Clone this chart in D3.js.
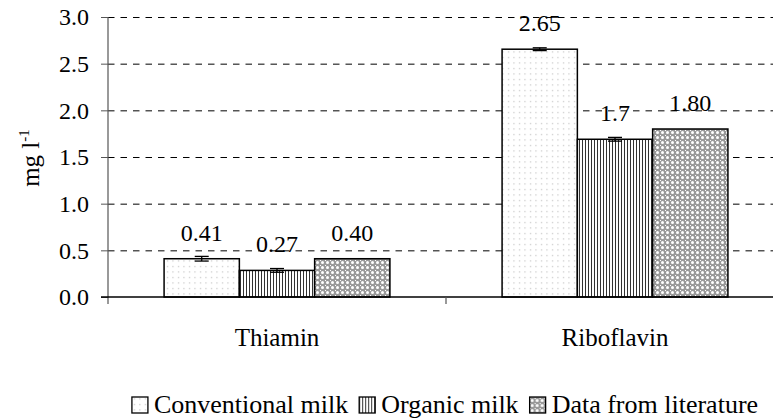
<!DOCTYPE html>
<html>
<head>
<meta charset="utf-8">
<script src="https://cdn.jsdelivr.net/npm/d3@7"></script>
<style>
	body { margin: 0; background: #fff; }
	svg text { font-family: "Liberation Serif", "Times New Roman", serif !important; fill: #000; }
</style>
</head>
<body>
<div id="chart"></div>
<script>
// data
let categories = ["Thiamin", "Riboflavin"];
let series = ["Conventional milk", "Organic milk", "Data from literature"];
let conventional = [0.41, 2.655];
let organic = [0.285, 1.69];
let literature = [0.41, 1.80];
let conventional_err = [0.025, 0.015];
let organic_err = [0.02, 0.02];
let literature_err = [0, 0];
let conventional_labels = ["0.41", "2.65"];
let organic_labels = ["0.27", "1.7"];
let literature_labels = ["0.40", "1.80"];
let y_ticks = [0, 0.5, 1, 1.5, 2, 2.5, 3];

let width = 773;
let height = 419;
let margin = { top: 17, right: -11, bottom: 120, left: 108 };
let serif = "'Liberation Serif', 'Times New Roman', serif";

let values = [conventional, organic, literature];
let errs = [conventional_err, organic_err, literature_err];
let labels = [conventional_labels, organic_labels, literature_labels];
let patterns = ["p-dots", "p-vert", "p-cross"];

let rows = [];
series.forEach((s, i) => {
	categories.forEach((c, j) => {
		rows.push({ series: s, cat: c, value: values[i][j], err: errs[i][j], label: labels[i][j], pat: patterns[i] });
	});
});

let svg = d3.select("#chart")
	.append("svg")
	.attr("width", width)
	.attr("height", height)
	.attr("font-family", serif);

//patterns
let defs = svg.append("defs");
let p1 = defs.append("pattern").attr("id", "p-dots").attr("patternUnits", "userSpaceOnUse")
	.attr("width", 5.5).attr("height", 5.5);
p1.append("rect").attr("width", 5.5).attr("height", 5.5).attr("fill", "#fff");
p1.append("rect").attr("x", 2).attr("y", 2).attr("width", 1).attr("height", 1).attr("fill", "#aaa");

let p2 = defs.append("pattern").attr("id", "p-vert").attr("patternUnits", "userSpaceOnUse")
	.attr("width", 3).attr("height", 3);
p2.append("rect").attr("width", 3).attr("height", 3).attr("fill", "#fff");
p2.append("rect").attr("x", 0).attr("width", 1).attr("height", 3).attr("fill", "#333");

let p3 = defs.append("pattern").attr("id", "p-cross").attr("patternUnits", "userSpaceOnUse")
	.attr("width", 5).attr("height", 5);
p3.append("rect").attr("width", 5).attr("height", 5).attr("fill", "#999");
p3.append("circle").attr("cx", 2.5).attr("cy", 2.5).attr("r", 1.5).attr("fill", "#fff");
p3.append("rect").attr("x", 0).attr("y", 0).attr("width", 1).attr("height", 1).attr("fill", "#fff");

let x0 = d3.scaleBand()
	.domain(categories)
	.range([margin.left, width - margin.right])
	.padding(0);

let x1 = d3.scaleBand()
	.domain(series)
	.range([0, x0.bandwidth()])
	.paddingInner(0)
	.paddingOuter(0.745);

let y = d3.scaleLinear()
	.domain([0, 3])
	.range([height - margin.bottom - 2, margin.top]);

//gridlines
svg.append("g")
	.selectAll("line")
	.data(y_ticks.filter(d => d > 0))
	.enter().append("line")
	.attr("x1", margin.left)
	.attr("x2", width - margin.right)
	.attr("y1", d => y(d) + 0.5)
	.attr("y2", d => y(d) + 0.5)
	.attr("stroke", "#000")
	.attr("stroke-width", 1)
	.attr("stroke-dasharray", "6.5,6");

//bars
let bars = svg.append("g");
bars.selectAll("rect")
	.data(rows)
	.enter().append("rect")
	.attr("x", d => x0(d.cat) + x1(d.series))
	.attr("y", d => y(d.value))
	.attr("width", x1.bandwidth())
	.attr("height", d => y(0) - y(d.value))
	.attr("fill", d => "url(#" + d.pat + ")")
	.attr("stroke", "#000")
	.attr("stroke-width", 1.5);

//error bars
let eb = svg.append("g").attr("stroke", "#000").attr("stroke-width", 1.3);
rows.filter(d => d.err > 0).forEach(d => {
	let cx = x0(d.cat) + x1(d.series) + x1.bandwidth() / 2;
	eb.append("line").attr("x1", cx).attr("x2", cx).attr("y1", y(d.value - d.err)).attr("y2", y(d.value + d.err));
	eb.append("line").attr("x1", cx - 7).attr("x2", cx + 7).attr("y1", y(d.value - d.err)).attr("y2", y(d.value - d.err));
	eb.append("line").attr("x1", cx - 7).attr("x2", cx + 7).attr("y1", y(d.value + d.err)).attr("y2", y(d.value + d.err));
});

//value labels
svg.append("g")
	.selectAll("text")
	.data(rows)
	.enter().append("text")
	.attr("x", d => x0(d.cat) + x1(d.series) + x1.bandwidth() / 2)
	.attr("y", d => y(d.value) - 18)
	.attr("text-anchor", "middle")
	.style("font-size", "24px")
	.text(d => d.label);

//y axis
let yAxis = svg.append("g")
	.attr("transform", "translate(" + margin.left + ",0)")
	.call(d3.axisLeft(y).tickValues(y_ticks).tickSize(7).tickPadding(12).tickFormat(d3.format(".1f")))
	.call(g => g.select(".domain").remove())
	.attr("font-family", serif);
yAxis.selectAll("text").style("font-size", "24px").attr("fill", "#000");
yAxis.selectAll("line").attr("stroke", "#555");
svg.append("line")
	.attr("x1", margin.left).attr("x2", margin.left)
	.attr("y1", y(3)).attr("y2", y(0) + 7)
	.attr("stroke", "#555").attr("stroke-width", 1.2);

//x axis
svg.append("line")
	.attr("x1", margin.left - 7).attr("x2", width - margin.right)
	.attr("y1", y(0)).attr("y2", y(0))
	.attr("stroke", "#000").attr("stroke-width", 1.5);
svg.append("g")
	.selectAll("line")
	.data(categories.slice(1))
	.enter().append("line")
	.attr("x1", d => x0(d)).attr("x2", d => x0(d))
	.attr("y1", y(0)).attr("y2", y(0) + 7)
	.attr("stroke", "#555").attr("stroke-width", 1.2);
svg.append("g")
	.selectAll("text")
	.data(categories)
	.enter().append("text")
	.attr("x", d => x0(d) + x0.bandwidth() / 2)
	.attr("y", 346)
	.attr("text-anchor", "middle")
	.style("font-size", "25px")
	.text(d => d);

//y title
let yt = svg.append("text")
	.attr("transform", "translate(39,158) rotate(-90)")
	.attr("text-anchor", "middle")
	.style("font-size", "25px");
yt.append("tspan").text("mg l");
yt.append("tspan").attr("dy", -10).style("font-size", "15px").text("-1");

//legend
let legend = svg.append("g");
let lx = 0;
series.forEach((s, i) => {
	let item = legend.append("g").attr("transform", "translate(" + lx + ",0)");
	item.append("rect")
		.attr("x", 0).attr("y", -16)
		.attr("width", 16).attr("height", 16)
		.attr("fill", "url(#" + patterns[i] + ")")
		.attr("stroke", "#000").attr("stroke-width", 1.3);
	let t = item.append("text")
		.attr("x", 22).attr("y", 0)
		.style("font-size", "26px")
		.text(s);
	lx += 22 + t.node().getComputedTextLength() + 11;
});
lx -= 11;
legend.attr("transform", "translate(" + (445 - lx / 2) + ",413)");
</script>
</body>
</html>
